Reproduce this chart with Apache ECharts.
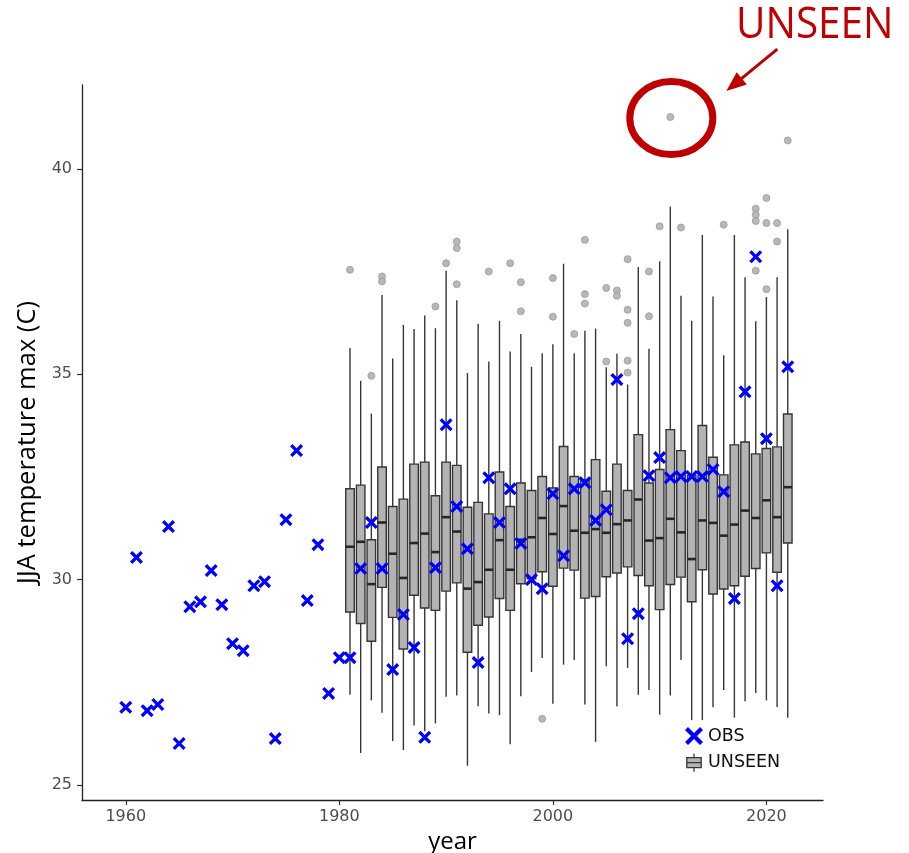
<!DOCTYPE html>
<html>
<head>
<meta charset="utf-8">
<script src="https://cdn.jsdelivr.net/npm/echarts@6/dist/echarts.min.js"></script>
<style>
  html, body { margin: 0; padding: 0; background: #ffffff; }
  #chart { width: 909px; height: 853px; }
</style>
</head>
<body>
<div id="chart"></div>
<script>
// Observed JJA maximum temperature per year
const obsYears = [1960, 1961, 1962, 1963, 1964, 1965, 1966, 1967, 1968, 1969,
  1970, 1971, 1972, 1973, 1974, 1975, 1976, 1977, 1978, 1979,
  1980, 1981, 1982, 1983, 1984, 1985, 1986, 1987, 1988, 1989,
  1990, 1991, 1992, 1993, 1994, 1995, 1996, 1997, 1998, 1999,
  2000, 2001, 2002, 2003, 2004, 2005, 2006, 2007, 2008, 2009,
  2010, 2011, 2012, 2013, 2014, 2015, 2016, 2017, 2018, 2019,
  2020, 2021, 2022];
const obsValues = [26.89, 30.54, 26.81, 26.96, 31.29, 26.01, 29.34, 29.46, 30.22, 29.39,
  28.44, 28.27, 29.85, 29.95, 26.13, 31.46, 33.14, 29.49, 30.85, 27.23,
  28.10, 28.10, 30.27, 31.39, 30.27, 27.81, 29.15, 28.35, 26.16, 30.29,
  33.77, 31.78, 30.75, 27.98, 32.48, 31.39, 32.21, 30.88, 30.00, 29.78,
  32.09, 30.58, 32.21, 32.36, 31.44, 31.70, 34.87, 28.56, 29.17, 32.53,
  32.97, 32.48, 32.51, 32.51, 32.51, 32.68, 32.14, 29.54, 34.57, 37.86,
  33.43, 29.85, 35.18];

// UNSEEN ensemble summary per year: whisker ends, quartiles and median
const boxYears = [1981, 1982, 1983, 1984, 1985, 1986, 1987, 1988, 1989, 1990,
  1991, 1992, 1993, 1994, 1995, 1996, 1997, 1998, 1999, 2000,
  2001, 2002, 2003, 2004, 2005, 2006, 2007, 2008, 2009, 2010,
  2011, 2012, 2013, 2014, 2015, 2016, 2017, 2018, 2019, 2020,
  2021, 2022];
const boxLow = [27.20, 25.78, 27.06, 26.76, 26.07, 25.85, 26.45, 26.31, 26.50, 27.15,
  27.18, 25.47, 26.92, 26.74, 26.70, 25.99, 27.16, 27.75, 28.09, 26.98,
  27.93, 28.04, 26.96, 26.05, 27.89, 26.92, 27.85, 27.20, 27.31, 26.71,
  27.18, 28.04, 26.58, 26.58, 26.89, 27.31, 26.64, 27.04, 27.24, 27.06,
  26.90, 26.64];
const boxQ1 = [29.21, 28.93, 28.50, 29.81, 29.08, 28.31, 29.62, 29.31, 29.25, 29.72,
  29.92, 28.23, 28.89, 29.09, 29.54, 29.25, 29.90, 30.02, 30.19, 29.84,
  30.28, 30.23, 29.55, 29.59, 30.07, 30.16, 30.31, 30.10, 29.85, 29.27,
  29.88, 30.06, 29.46, 30.24, 29.65, 29.77, 29.85, 30.08, 30.27, 30.65,
  30.18, 30.89];
const boxMedian = [30.80, 30.92, 29.89, 31.39, 30.63, 30.04, 30.89, 31.12, 30.67, 31.52,
  31.17, 29.78, 29.94, 30.24, 30.96, 30.24, 30.97, 31.03, 31.50, 31.11,
  31.79, 31.19, 31.14, 31.23, 31.14, 31.35, 31.44, 31.95, 30.95, 31.01,
  31.48, 31.15, 30.50, 31.44, 31.38, 31.07, 31.34, 31.68, 31.50, 31.93,
  31.52, 32.25];
const boxQ3 = [32.21, 32.30, 30.97, 32.74, 31.78, 31.96, 32.81, 32.86, 32.04, 32.86,
  32.78, 31.76, 31.88, 31.60, 32.62, 31.78, 32.35, 32.17, 32.51, 32.23,
  33.24, 32.51, 32.43, 32.92, 32.15, 32.81, 32.17, 33.53, 32.35, 32.68,
  33.65, 33.14, 32.53, 33.75, 32.98, 32.55, 33.28, 33.35, 33.06, 33.19,
  33.23, 34.03];
const boxHigh = [35.64, 34.84, 34.04, 36.93, 35.38, 36.20, 36.10, 36.43, 36.12, 37.52,
  36.80, 35.03, 36.23, 35.31, 36.30, 35.55, 35.98, 35.18, 35.51, 35.73,
  37.69, 35.51, 36.06, 36.11, 35.17, 35.50, 34.75, 37.61, 35.62, 37.75,
  39.08, 36.91, 36.30, 38.39, 36.89, 35.46, 38.39, 37.36, 36.29, 36.88,
  37.36, 38.53];

// UNSEEN members outside the whiskers
const outlierYears = [1981, 1983, 1984, 1984, 1989, 1990, 1991, 1991, 1991, 1994,
  1996, 1997, 1997, 1999, 2000, 2000, 2002, 2003, 2003, 2003,
  2005, 2005, 2006, 2006, 2007, 2007, 2007, 2007, 2007, 2009,
  2009, 2010, 2011, 2012, 2016, 2019, 2019, 2019, 2019, 2020,
  2020, 2020, 2021, 2021, 2022];
const outlierValues = [37.54, 34.96, 37.38, 37.26, 36.65, 37.70, 38.23, 38.07, 37.19, 37.50,
  37.70, 37.24, 36.53, 26.61, 37.34, 36.40, 35.98, 38.27, 36.95, 36.72,
  37.10, 35.31, 37.04, 36.91, 37.80, 36.57, 36.25, 35.33, 35.04, 37.50,
  36.41, 38.60, 41.26, 38.57, 38.64, 39.03, 38.88, 38.73, 37.52, 39.29,
  38.68, 37.07, 38.68, 38.23, 40.69];

const xTicks = [1960, 1980, 2000, 2020];
const yTicks = [25, 30, 35, 40];

// Record member highlighted by the annotation
const recordYear = 2011;
const recordValue = 41.26;

const crossPath = 'path://M18,0 L50,32 L82,0 L100,18 L68,50 L100,82 L82,100 L50,68 L18,100 L0,82 L32,50 L0,18 Z';
const legendCrossPath = 'path://M22,8 L50,36 L78,8 L92,22 L64,50 L92,78 L78,92 L50,64 L22,92 L8,78 L36,50 L8,22 Z';
const boxIconPath = 'path://M10,22 L90,22 L90,78 L10,78 Z M50,0 L50,22 M50,78 L50,100 M10,50 L90,50';

const boxData = boxYears.map((y, i) => [y, boxLow[i], boxQ1[i], boxMedian[i], boxQ3[i], boxHigh[i]]);
const outlierData = outlierYears.map((y, i) => [y, outlierValues[i]]);
const obsData = obsYears.map((y, i) => [y, obsValues[i]]);

function renderBox(params, api) {
  const x = api.value(0);
  const low = api.coord([x, api.value(1)]);
  const q1 = api.coord([x, api.value(2)]);
  const med = api.coord([x, api.value(3)]);
  const q3 = api.coord([x, api.value(4)]);
  const high = api.coord([x, api.value(5)]);
  const w = api.size([0.8, 0])[0];
  const cx = q1[0];
  const edge = { stroke: '#363636', lineWidth: 1.4 };
  return {
    type: 'group',
    children: [
      { type: 'line', shape: { x1: cx, y1: high[1], x2: cx, y2: q3[1] }, style: edge },
      { type: 'line', shape: { x1: cx, y1: q1[1], x2: cx, y2: low[1] }, style: edge },
      { type: 'rect', shape: { x: cx - w / 2, y: q3[1], width: w, height: q1[1] - q3[1] },
        style: { fill: '#b3b3b3', stroke: '#363636', lineWidth: 1.4 } },
      { type: 'line', shape: { x1: cx - w / 2, y1: med[1], x2: cx + w / 2, y2: med[1] },
        style: { stroke: '#262626', lineWidth: 2.6 } }
    ]
  };
}

const intLabel = (v) => String(Math.round(v));

const chart = echarts.init(document.getElementById('chart'), null, { renderer: 'canvas' });

const option = {
  backgroundColor: '#ffffff',
  animation: false,
  grid: { left: 82, right: 86, top: 85, bottom: 53, outerBoundsMode: 'none' },
  xAxis: {
    type: 'value',
    min: 1955.9,
    max: 2025.3,
    name: 'year',
    nameLocation: 'middle',
    nameGap: 28,
    nameTextStyle: { fontFamily: 'Open Sans', fontSize: 24, color: '#000000' },
    axisLine: { show: true, lineStyle: { color: '#222222', width: 1.3 } },
    axisTick: { show: true, length: 5, customValues: xTicks, lineStyle: { color: '#333333', width: 1.2 } },
    axisLabel: { customValues: xTicks, formatter: intLabel, margin: 9, fontFamily: 'DejaVu Sans', fontSize: 16, color: '#4d4d4d' },
    splitLine: { show: false }
  },
  yAxis: {
    type: 'value',
    min: 24.635,
    max: 42.04,
    name: 'JJA temperature max (C)',
    nameLocation: 'middle',
    nameGap: 37,
    nameTextStyle: { fontFamily: 'Open Sans', fontSize: 25.5, color: '#000000' },
    axisLine: { show: true, lineStyle: { color: '#222222', width: 1.3 } },
    axisTick: { show: true, length: 5, customValues: yTicks, lineStyle: { color: '#333333', width: 1.2 } },
    axisLabel: { customValues: yTicks, formatter: intLabel, margin: 10, fontFamily: 'DejaVu Sans', fontSize: 16, color: '#4d4d4d' },
    splitLine: { show: false }
  },
  legend: {
    orient: 'vertical',
    left: 680,
    top: 722,
    itemWidth: 18,
    itemHeight: 18,
    itemGap: 8,
    textStyle: { fontFamily: 'DejaVu Sans', fontSize: 17.5, color: '#111111' },
    data: [
      { name: 'OBS', icon: legendCrossPath, itemStyle: { color: '#0000ff', borderWidth: 0, opacity: 1 } },
      { name: 'UNSEEN', icon: boxIconPath, itemStyle: { color: '#b3b3b3', borderColor: '#363636', borderWidth: 1.3 } }
    ]
  },
  series: [
    {
      name: 'UNSEEN',
      type: 'custom',
      renderItem: renderBox,
      encode: { x: 0, y: [1, 2, 3, 4, 5] },
      itemStyle: { color: '#b3b3b3' },
      data: boxData,
      z: 2
    },
    {
      name: 'UNSEEN',
      type: 'scatter',
      symbol: 'circle',
      symbolSize: 7,
      itemStyle: { color: '#b8b8b8', borderColor: '#9a9a9a', borderWidth: 0.8, opacity: 1 },
      data: outlierData,
      z: 3
    },
    {
      name: 'OBS',
      type: 'scatter',
      symbol: crossPath,
      symbolSize: 13,
      itemStyle: { color: '#0000ff', opacity: 1 },
      data: obsData,
      z: 5
    }
  ]
};

chart.setOption(option);

// Red annotation circling the record member, with an arrow and label
const p = chart.convertToPixel({ gridIndex: 0 }, [recordYear, recordValue]);
const tip = [p[0] + 56, p[1] - 26];
const tail = [p[0] + 107, p[1] - 68];
const dx = tip[0] - tail[0], dy = tip[1] - tail[1];
const len = Math.sqrt(dx * dx + dy * dy);
const ux = dx / len, uy = dy / len;
const headLen = 20, headHalf = 8;
const base = [tip[0] - ux * headLen, tip[1] - uy * headLen];
const arrowHead = [
  tip,
  [base[0] - uy * headHalf, base[1] + ux * headHalf],
  [base[0] + uy * headHalf, base[1] - ux * headHalf]
];

chart.setOption({
  graphic: [
    {
      type: 'ellipse',
      shape: { cx: p[0] + 1, cy: p[1] + 1, rx: 41.5, ry: 36.5 },
      style: { fill: 'none', stroke: '#c00000', lineWidth: 7 },
      z: 10
    },
    {
      type: 'line',
      shape: { x1: tail[0], y1: tail[1], x2: base[0] + ux * 2, y2: base[1] + uy * 2 },
      style: { stroke: '#c00000', lineWidth: 3 },
      z: 10
    },
    {
      type: 'polygon',
      shape: { points: arrowHead },
      style: { fill: '#c00000' },
      z: 10
    },
    {
      type: 'text',
      x: 736,
      y: 4,
      scaleX: 0.94,
      style: { text: 'UNSEEN', fill: '#c00000', font: '43px "Open Sans"', textVerticalAlign: 'top' },
      z: 10
    }
  ]
});
</script>
</body>
</html>
